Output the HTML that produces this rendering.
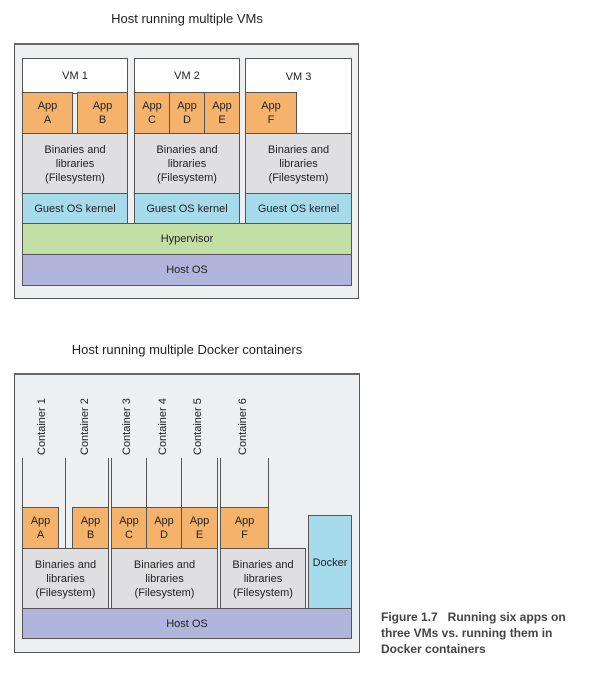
<!DOCTYPE html>
<html><head><meta charset="utf-8"><style>
body{margin:0;width:604px;height:679px;background:#fff;position:relative;overflow:hidden;font-family:"Liberation Sans",Arial,sans-serif;color:#222}
.b{position:absolute;box-sizing:border-box;border:1px solid #555;display:flex;align-items:center;justify-content:center;text-align:center;font-size:11px;line-height:14px}
.o{background:#f5b26b}.g{background:#dfdfe1}.c{background:#a6dbec}.h{background:#c2dfa6}.p{background:#b1b5dc}.w{background:#fff}
.host{position:absolute;box-sizing:border-box;background:#eeeff1;border:1px solid #555;border-top:2px solid #666}
.t{position:absolute;font-size:13px;width:374px;left:0;text-align:center}
.v{position:absolute;width:1px;background:#555}
.r{position:absolute;font-size:11px;transform:rotate(-90deg);transform-origin:left top;white-space:nowrap}
.cap{position:absolute;left:381px;top:609px;font-size:12px;font-weight:bold;line-height:16px;color:#444}
</style></head><body>
<div class="t" style="top:11px">Host running multiple VMs</div>
<div class="host" style="left:14px;top:43px;width:345px;height:256px"></div>
<div class="b w" style="left:22px;top:58px;width:106px;height:36px">VM 1</div>
<div class="b w" style="left:134px;top:58px;width:106px;height:36px">VM 2</div>
<div class="b w" style="left:245px;top:58px;width:107px;height:76px;align-items:flex-start;padding-top:11px">VM 3</div>
<div class="b o" style="left:22px;top:92px;width:51px;height:42px">App<br>A</div>
<div class="b o" style="left:77px;top:92px;width:51px;height:42px">App<br>B</div>
<div class="b o" style="left:134px;top:92px;width:36px;height:42px">App<br>C</div>
<div class="b o" style="left:169px;top:92px;width:36px;height:42px">App<br>D</div>
<div class="b o" style="left:204px;top:92px;width:36px;height:42px">App<br>E</div>
<div class="b o" style="left:245px;top:92px;width:52px;height:42px">App<br>F</div>
<div class="b g" style="left:22px;top:133px;width:106px;height:61px">Binaries and<br>libraries<br>(Filesystem)</div>
<div class="b g" style="left:134px;top:133px;width:106px;height:61px">Binaries and<br>libraries<br>(Filesystem)</div>
<div class="b g" style="left:245px;top:133px;width:107px;height:61px">Binaries and<br>libraries<br>(Filesystem)</div>
<div class="b c" style="left:22px;top:193px;width:106px;height:31px">Guest OS kernel</div>
<div class="b c" style="left:134px;top:193px;width:106px;height:31px">Guest OS kernel</div>
<div class="b c" style="left:245px;top:193px;width:107px;height:31px">Guest OS kernel</div>
<div class="b h" style="left:22px;top:223px;width:330px;height:32px">Hypervisor</div>
<div class="b p" style="left:22px;top:254px;width:330px;height:32px">Host OS</div>

<div class="t" style="top:342px">Host running multiple Docker containers</div>
<div class="host" style="left:14px;top:373px;width:346px;height:280px"></div>
<div class="v" style="left:22px;top:458px;height:50px"></div>
<div class="v" style="left:65px;top:458px;height:90px"></div>
<div class="v" style="left:108px;top:458px;height:150px"></div>
<div class="v" style="left:111px;top:458px;height:150px"></div>
<div class="v" style="left:146px;top:458px;height:50px"></div>
<div class="v" style="left:181px;top:458px;height:50px"></div>
<div class="v" style="left:217px;top:458px;height:150px"></div>
<div class="v" style="left:220px;top:458px;height:150px"></div>
<div class="v" style="left:268px;top:458px;height:50px"></div>
<div class="r" style="left:36px;top:455px">Container 1</div>
<div class="r" style="left:79px;top:455px">Container 2</div>
<div class="r" style="left:121px;top:455px">Container 3</div>
<div class="r" style="left:157px;top:455px">Container 4</div>
<div class="r" style="left:192px;top:455px">Container 5</div>
<div class="r" style="left:237px;top:455px">Container 6</div>
<div class="b o" style="left:22px;top:507px;width:37px;height:42px">App<br>A</div>
<div class="b o" style="left:72px;top:507px;width:37px;height:42px">App<br>B</div>
<div class="b o" style="left:111px;top:507px;width:36px;height:42px">App<br>C</div>
<div class="b o" style="left:146px;top:507px;width:36px;height:42px">App<br>D</div>
<div class="b o" style="left:181px;top:507px;width:37px;height:42px">App<br>E</div>
<div class="b o" style="left:220px;top:507px;width:49px;height:42px">App<br>F</div>
<div class="b g" style="left:22px;top:548px;width:87px;height:61px">Binaries and<br>libraries<br>(Filesystem)</div>
<div class="b g" style="left:111px;top:548px;width:107px;height:61px">Binaries and<br>libraries<br>(Filesystem)</div>
<div class="b g" style="left:220px;top:548px;width:86px;height:61px">Binaries and<br>libraries<br>(Filesystem)</div>
<div class="b c" style="left:308px;top:515px;width:44px;height:94px;align-items:flex-start;padding-top:40px">Docker</div>
<div class="b p" style="left:22px;top:608px;width:330px;height:31px">Host OS</div>
<div class="cap">Figure 1.7&nbsp;&nbsp;&nbsp;Running six apps on<br>three VMs vs. running them in<br>Docker containers</div>
</body></html>
